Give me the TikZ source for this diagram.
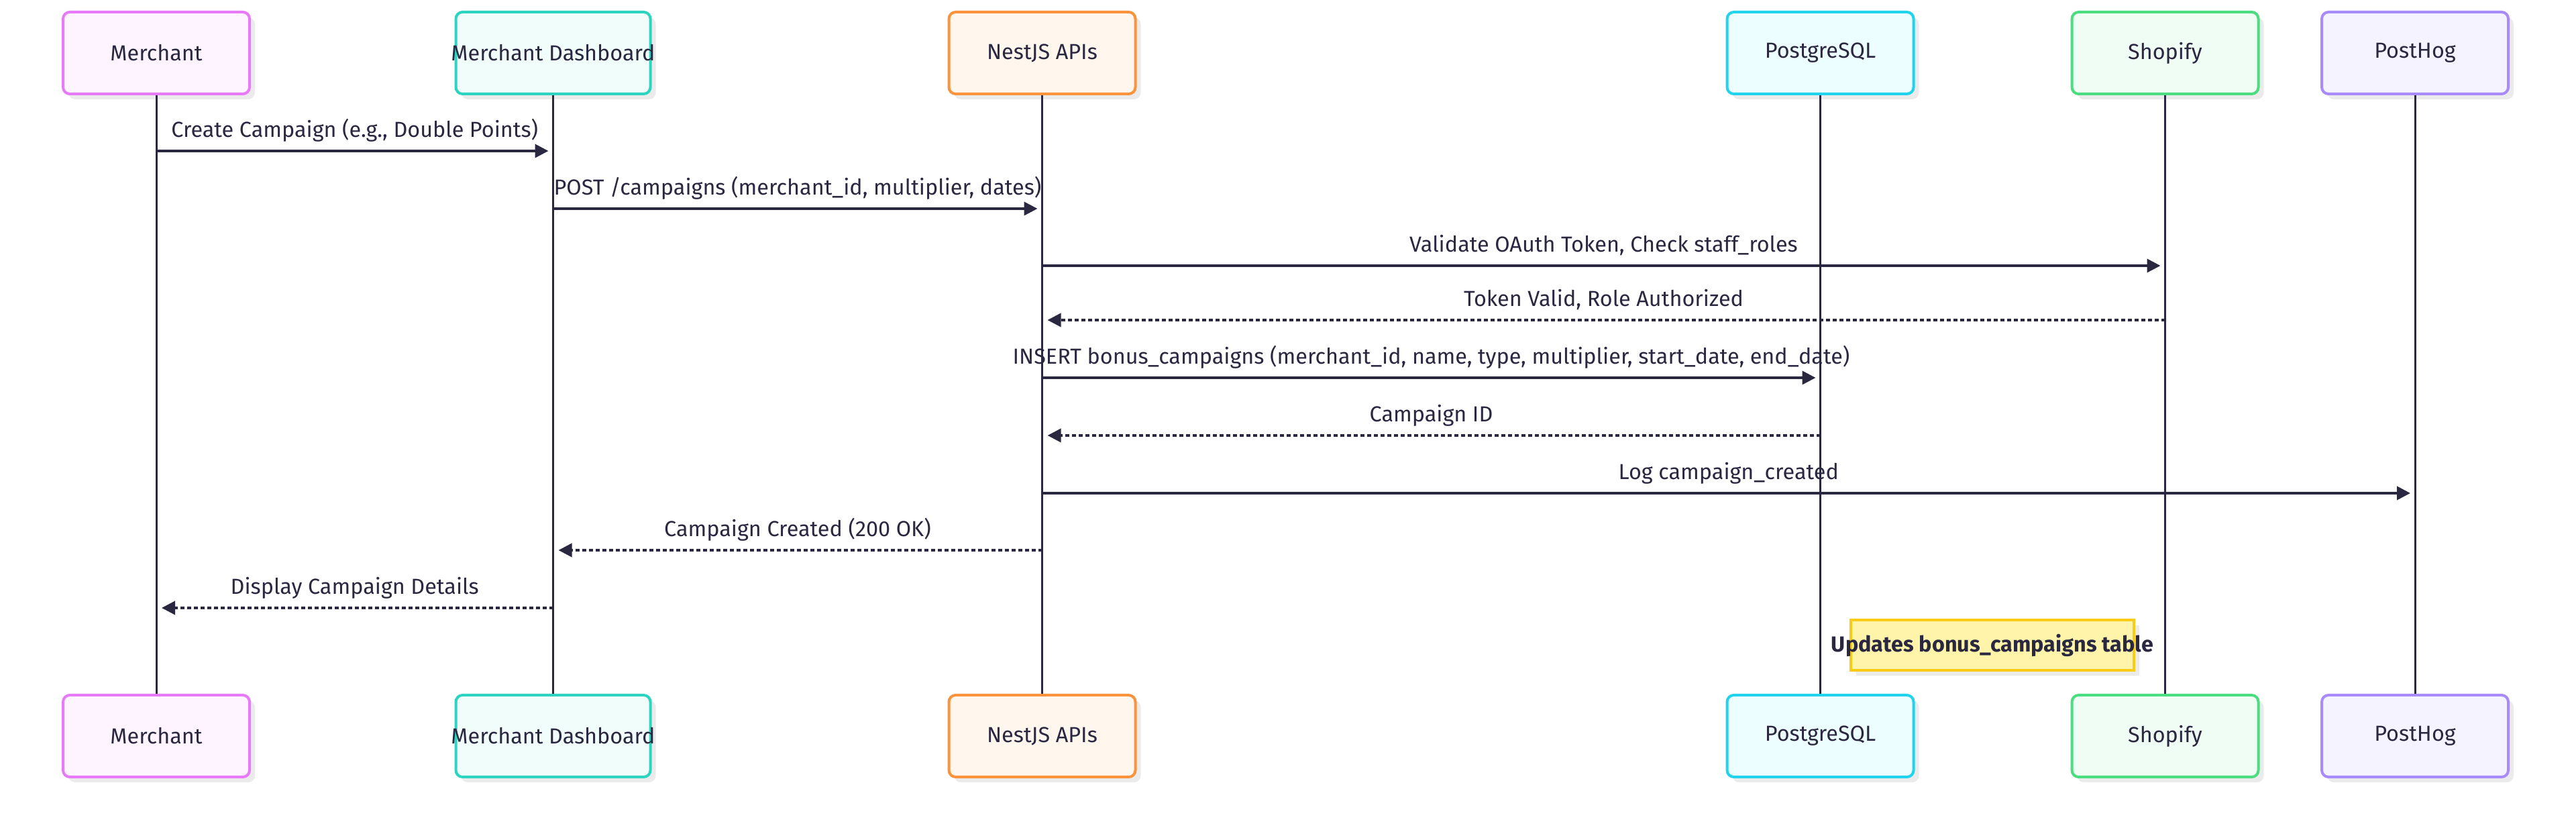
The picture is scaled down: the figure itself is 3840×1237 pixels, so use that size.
\documentclass[tikz,border=0pt]{standalone}
\usepackage{fontspec}
\setmainfont{Fira Sans}
\usetikzlibrary{arrows.meta,shadows}
\definecolor{ink}{HTML}{2A2740}
\definecolor{mB}{HTML}{E879F9}\definecolor{mF}{HTML}{FDF4FF}
\definecolor{dB}{HTML}{2DD4BF}\definecolor{dF}{HTML}{F0FDFA}
\definecolor{nB}{HTML}{FB923C}\definecolor{nF}{HTML}{FFF7ED}
\definecolor{pB}{HTML}{22D3EE}\definecolor{pF}{HTML}{ECFEFF}
\definecolor{sB}{HTML}{4ADE80}\definecolor{sF}{HTML}{F0FDF4}
\definecolor{hB}{HTML}{A78BFA}\definecolor{hF}{HTML}{F5F3FF}
\definecolor{noteB}{HTML}{FACC15}\definecolor{noteF}{HTML}{FFF4AA}
\begin{document}
\begin{tikzpicture}[x=0.25pt,y=-0.25pt,
  font=\fontsize{8.1pt}{9.7pt}\selectfont, text=ink,
  actor/.style={draw=#1B, fill=#1F, line width=1pt, rounded corners=2.5pt,
    minimum width=69.5pt, minimum height=30.5pt, inner sep=0pt,
    drop shadow={shadow xshift=2pt, shadow yshift=-2pt, fill=black!8, opacity=1}},
  life/.style={draw=ink, line width=0.75pt},
  msg/.style={draw=ink, line width=0.9pt, -{Triangle[length=5pt,width=5pt]}},
  ret/.style={msg, dash pattern=on 1.4pt off 1.1pt},
  lbl/.style={midway, anchor=base, yshift=5pt, inner sep=0pt},
  notebox/.style={draw=noteB, fill=noteF, line width=1pt, minimum width=105.5pt,
    minimum height=18.75pt, inner sep=0pt,
    drop shadow={shadow xshift=2pt, shadow yshift=-2pt, fill=black!8, opacity=1}}]
\useasboundingbox (0,0) rectangle (3840,1237);
% top actors
\node[actor=m] (mT) at (233,79) {Merchant};
\node[actor=d, minimum width=72.5pt] (dT) at (824.5,79) {\makebox[0pt]{Merchant Dashboard}};
\node[actor=n] (nT) at (1553.5,79) {NestJS APIs};
\node[actor=p] (pT) at (2713.5,79) {PostgreSQL};
\node[actor=s] (sT) at (3227.5,79) {Shopify};
\node[actor=h] (hT) at (3600,79) {PostHog};
% bottom actors
\node[actor=m] (mBot) at (233,1097) {Merchant};
\node[actor=d, minimum width=72.5pt] (dBot) at (824.5,1097) {\makebox[0pt]{Merchant Dashboard}};
\node[actor=n] (nBot) at (1553.5,1097) {NestJS APIs};
\node[actor=p] (pBot) at (2713.5,1097) {PostgreSQL};
\node[actor=s] (sBot) at (3227.5,1097) {Shopify};
\node[actor=h] (hBot) at (3600,1097) {PostHog};
% lifelines
\draw[life] (mT.south) -- (mBot.north);
\draw[life] (dT.south) -- (dBot.north);
\draw[life] (nT.south) -- (nBot.north);
\draw[life] (pT.south) -- (pBot.north);
\draw[life] (sT.south) -- (sBot.north);
\draw[life] (hT.south) -- (hBot.north);
% messages
\draw[msg, shorten >=1.75pt] (mT |- 0,225) -- node[lbl]{Create Campaign (e.g., Double Points)} (dT |- 0,225);
\draw[msg, shorten >=1.75pt] (dT |- 0,311) -- node[lbl]{POST /campaigns (merchant\_id, multiplier, dates)} (nT |- 0,311);
\draw[msg, shorten >=1.75pt] (nT |- 0,396) -- node[lbl]{Validate OAuth Token, Check staff\_roles} (sT |- 0,396);
\draw[ret, shorten >=2pt] (sT |- 0,477) -- node[lbl]{Token Valid, Role Authorized} (nT |- 0,477);
\draw[msg, shorten >=1.75pt] (nT |- 0,563) -- node[lbl]{INSERT bonus\_campaigns (merchant\_id, name, type, multiplier, start\_date, end\_date)} (pT |- 0,563);
\draw[ret, shorten >=2pt] (pT |- 0,649) -- node[lbl]{Campaign ID} (nT |- 0,649);
\draw[msg, shorten >=1.75pt] (nT |- 0,735) -- node[lbl]{Log campaign\_created} (hT |- 0,735);
\draw[ret, shorten >=2pt] (nT |- 0,820) -- node[lbl]{Campaign Created (200 OK)} (dT |- 0,820);
\draw[ret, shorten >=2pt] (dT |- 0,906) -- node[lbl]{Display Campaign Details} (mT |- 0,906);
% note
\node[notebox] (note) at (2970,961.5) {};
\node[inner sep=0pt, font=\fontsize{8.1pt}{9.7pt}\selectfont\bfseries] (noteText) at (note.center) {Updates bonus\_campaigns table};
\end{tikzpicture}
\end{document}
